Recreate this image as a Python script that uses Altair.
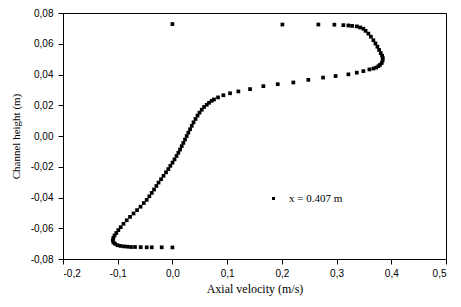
import altair as alt
import pandas as pd

# Axial velocity (m/s) at x = 0.407 m
velocity = [
    0.000, 0.201, 0.2667, 0.296, 0.3124,
    0.3216, 0.3283, 0.3369, 0.343, 0.349, 0.353, 0.3581, 0.3627, 0.3673, 0.371,
    0.3746, 0.3777, 0.3808, 0.3832, 0.3845, 0.3841, 0.3826, 0.3795, 0.3764, 0.3722,
    0.3673, 0.360,
    0.349, 0.3369, 0.3216, 0.2982, 0.2753, 0.2484, 0.221, 0.1925, 0.1662, 0.1419,
    0.1205, 0.1053, 0.0931, 0.0834,
    0.076, 0.0718, 0.0669, 0.0627, 0.0578, 0.0536, 0.0495, 0.0459, 0.0422, 0.0386,
    0.0353, 0.0322, 0.0291, 0.0261, 0.023, 0.0199, 0.017, 0.0139, 0.0108, 0.0075,
    0.0038, 0.0002, -0.0038, -0.0075, -0.0117, -0.0163, -0.0208, -0.0254, -0.0294,
    -0.0336, -0.0378, -0.0422, -0.047, -0.0523, -0.0583, -0.0647, -0.0711, -0.0775,
    -0.0835, -0.0894, -0.0945, -0.0989, -0.1026, -0.1058, -0.108, -0.109, -0.1077,
    -0.1049, -0.1004, -0.0949, -0.0885, -0.0821,
    -0.0757, -0.0684, -0.058, -0.047, -0.0378, -0.0196, 0.000,
]
# Channel height (m)
height = [
    0.0728, 0.0725, 0.0725, 0.0724, 0.0721,
    0.0719, 0.0716, 0.0713, 0.0706, 0.0698, 0.0684, 0.0666, 0.0646, 0.0623, 0.0602,
    0.0581, 0.056, 0.0539, 0.0522, 0.0507, 0.049, 0.0475, 0.0463, 0.0454, 0.0445,
    0.0439, 0.0433,
    0.0422, 0.0412, 0.0401, 0.039, 0.038, 0.0365, 0.0348, 0.0337, 0.0324, 0.0305,
    0.029, 0.0278, 0.0265, 0.0251,
    0.0238, 0.0229, 0.0216, 0.0203, 0.0189, 0.0171, 0.0152, 0.0133, 0.0111, 0.0089,
    0.0066, 0.0044, 0.0022, 0.0, -0.0023, -0.0045, -0.0066, -0.0088, -0.0109, -0.013,
    -0.0152, -0.0173, -0.0194, -0.0215, -0.0236, -0.0259, -0.0281, -0.0303, -0.0325,
    -0.0348, -0.037, -0.0392, -0.0415, -0.0436, -0.046, -0.0482, -0.0504, -0.0526,
    -0.0548, -0.0571, -0.0593, -0.0612, -0.0631, -0.0647, -0.0663, -0.0679, -0.0692,
    -0.0701, -0.071, -0.0715, -0.0718, -0.072,
    -0.0722, -0.0722, -0.0723, -0.0724, -0.0724, -0.0724, -0.0725,
]
series_name = "x = 0.407 m"
x_ticks = [-0.2, -0.1, 0.0, 0.1, 0.2, 0.3, 0.4, 0.5]
y_ticks = [-0.08, -0.06, -0.04, -0.02, 0.0, 0.02, 0.04, 0.06, 0.08]

df = pd.DataFrame({"v": velocity, "h": height, "s": [series_name] * len(velocity)})

x_label = "replace(replace(format(datum.value, '.1f'), '.', ','), '\u2212', '-')"
y_label = "replace(replace(format(datum.value, '.2f'), '.', ','), '\u2212', '-')"

chart = alt.Chart(df).mark_square(size=14, opacity=1, filled=True).encode(
    x=alt.X("v:Q",
            scale=alt.Scale(domain=[-0.2, 0.5], nice=False, zero=False),
            axis=alt.Axis(values=x_ticks, title="Axial velocity (m/s)", labelExpr=x_label,
                          labelPadding=4, titleFontSize=12, titleY=33,
                          titleBaseline="alphabetic")),
    y=alt.Y("h:Q",
            scale=alt.Scale(domain=[-0.08, 0.08], nice=False, zero=False),
            axis=alt.Axis(values=y_ticks, title="Channel height (m)", labelExpr=y_label,
                          labelPadding=5, titleFontSize=11, titleX=-47,
                          titleBaseline="middle")),
    color=alt.Color("s:N", scale=alt.Scale(range=["black"]),
                    legend=alt.Legend(title=None, orient="none", legendX=205, legendY=180,
                                      symbolType="square", symbolSize=9, padding=0,
                                      labelFont="Liberation Serif", labelFontSize=11,
                                      labelColor="black", labelOffset=10)),
).properties(
    width=383, height=246,
    padding={"left": 55, "top": 5, "right": 5, "bottom": 39},
    autosize=alt.AutoSizeParams(type="none"),
).configure_view(
    stroke="black", strokeWidth=1
).configure_axis(
    domainColor="black", tickColor="black", labelColor="black", titleColor="black",
    grid=False, tickSize=5, labelFont="Liberation Sans", labelFontSize=10,
    titleFont="Liberation Serif", titleFontWeight="normal",
)

chart.save("out.html", embed_options={"renderer": "svg", "actions": False})
